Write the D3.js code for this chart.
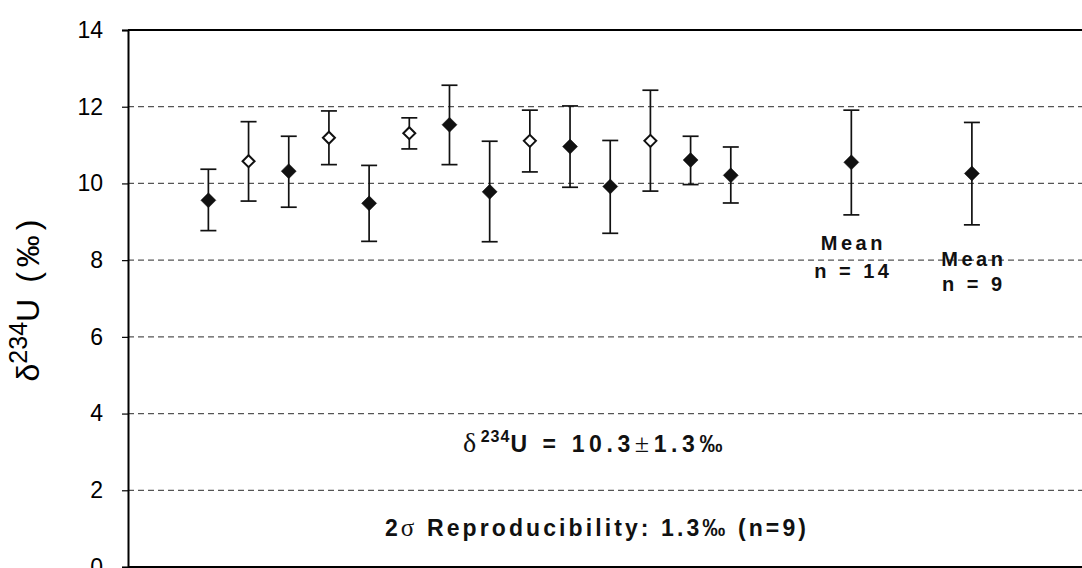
<!DOCTYPE html>
<html>
<head>
<meta charset="utf-8">
<script src="https://cdn.jsdelivr.net/npm/d3@7"></script>
<style>
  html, body { margin: 0; padding: 0; background: #fff; }
  svg { display: block; }
  text { font-family: "Liberation Sans", Arial, sans-serif; }
</style>
</head>
<body>
<svg id="chart" width="1082" height="568"></svg>
<script>
// ---- data ----
const positions = [2, 3, 4, 5, 6, 7, 8, 9, 10, 11, 12, 13, 14, 15, 18, 21];
const values    = [9.56, 10.58, 10.32, 11.19, 9.48, 11.31, 11.53, 9.78, 11.11, 10.96, 9.92, 11.11, 10.61, 10.21, 10.55, 10.26];
const upper     = [10.37, 11.61, 11.23, 11.89, 10.47, 11.71, 12.56, 11.10, 11.91, 12.02, 11.12, 12.43, 11.23, 10.95, 11.91, 11.59];
const lower     = [8.77, 9.54, 9.38, 10.49, 8.49, 10.90, 10.49, 8.48, 10.30, 9.90, 8.70, 9.80, 9.97, 9.49, 9.18, 8.92];
const hollow    = [false, true, false, true, false, true, false, false, true, false, false, true, false, false, false, false];
const yTicks    = [0, 2, 4, 6, 8, 10, 12, 14];
const meanLabels = [
  { pos: 18, lines: ["Mean", "n = 14"], yVal: [8.26, 7.53] },
  { pos: 21, lines: ["Mean", "n = 9"],  yVal: [7.85, 7.20] }
];

// ---- layout ----
const mLeft = 128, mTop = 30, mBottom = 567, mRight = 1082;
const svg = d3.select("#chart");
const x = d3.scaleLinear().domain([0, 23.74]).range([mLeft, mRight]);
const y = d3.scaleLinear().domain([0, 14]).range([mBottom, mTop]);

// gridlines
svg.append("g").selectAll("line").data(yTicks.filter(t => t > 0 && t < 14)).join("line")
  .attr("x1", mLeft).attr("x2", mRight)
  .attr("y1", d => y(d)).attr("y2", d => y(d))
  .attr("stroke", "#555").attr("stroke-width", 1.2)
  .attr("stroke-dasharray", "6,4");

// top border
svg.append("line").attr("x1", mLeft).attr("x2", mRight).attr("y1", y(14)).attr("y2", y(14))
  .attr("stroke", "#000").attr("stroke-width", 2);
// bottom border
svg.append("line").attr("x1", mLeft).attr("x2", mRight).attr("y1", y(0)).attr("y2", y(0))
  .attr("stroke", "#000").attr("stroke-width", 2);

// y axis
const yAxis = d3.axisLeft(y).tickValues(yTicks).tickSize(6).tickPadding(19).tickFormat(d3.format("d"));
const ga = svg.append("g").attr("transform", `translate(${mLeft},0)`).call(yAxis);
ga.select(".domain").attr("stroke", "#000").attr("stroke-width", 2);
ga.selectAll(".tick line").attr("stroke", "#000").attr("stroke-width", 1.2);
ga.selectAll(".tick text").attr("font-size", 23).attr("fill", "#000")
  .attr("font-family", "'Liberation Sans', Arial, sans-serif");

// y axis title
const yt = svg.append("text")
  .attr("transform", `translate(39,298) rotate(-90)`)
  .attr("text-anchor", "middle").attr("font-size", 32).attr("fill", "#000");
yt.append("tspan").text("δ");
yt.append("tspan").attr("font-size", 25).attr("dy", -12).text("234");
yt.append("tspan").attr("dy", 12).text("U");
yt.append("tspan").attr("dx", 16).attr("letter-spacing", 5).text("(‰)");

// error bars
const pts = positions.map((p, i) => ({ p, v: values[i], hi: upper[i], lo: lower[i], open: hollow[i] }));
const eb = svg.append("g");
eb.selectAll(".stem").data(pts).join("line")
  .attr("x1", d => x(d.p)).attr("x2", d => x(d.p))
  .attr("y1", d => y(d.hi)).attr("y2", d => y(d.lo))
  .attr("stroke", "#111").attr("stroke-width", 1.7);
eb.selectAll(".capT").data(pts).join("line")
  .attr("x1", d => x(d.p) - 8).attr("x2", d => x(d.p) + 8)
  .attr("y1", d => y(d.hi)).attr("y2", d => y(d.hi))
  .attr("stroke", "#111").attr("stroke-width", 1.7);
eb.selectAll(".capB").data(pts).join("line")
  .attr("x1", d => x(d.p) - 8).attr("x2", d => x(d.p) + 8)
  .attr("y1", d => y(d.lo)).attr("y2", d => y(d.lo))
  .attr("stroke", "#111").attr("stroke-width", 1.7);

// markers
const diamond = r => `M0,${-r}L${r},0L0,${r}L${-r},0Z`;
svg.append("g").selectAll("path").data(pts).join("path")
  .attr("transform", d => `translate(${x(d.p)},${y(d.v)})`)
  .attr("d", d => d.open ? diamond(6) : diamond(7.5))
  .attr("fill", d => d.open ? "#fff" : "#111")
  .attr("stroke", "#111")
  .attr("stroke-width", d => d.open ? 2 : 0.5);

// mean labels
meanLabels.forEach(m => {
  m.lines.forEach((ln, i) => {
    svg.append("text").attr("x", x(m.pos) + 2).attr("y", y(m.yVal[i]))
      .attr("text-anchor", "middle").attr("font-size", 20).attr("font-weight", "bold")
      .attr("letter-spacing", 3.5).attr("fill", "#111").text(ln);
  });
});

// annotations
const a1 = svg.append("text").attr("x", 595).attr("y", 452)
  .attr("text-anchor", "middle").attr("font-size", 23).attr("font-weight", "bold")
  .attr("letter-spacing", 4.6).attr("fill", "#111");
a1.append("tspan").attr("font-weight", "normal").attr("font-family", "'Liberation Serif', serif").attr("font-size", 28).text("δ");
a1.append("tspan").attr("font-size", 16).attr("dy", -10).attr("letter-spacing", 1).text("234");
a1.append("tspan").attr("dy", 10).text("U  =  10.3");
a1.append("tspan").attr("font-weight", "normal").attr("font-family", "'Liberation Serif', serif").attr("font-size", 26).text("±");
a1.append("tspan").text("1.3‰");

const a2 = svg.append("text").attr("x", 597).attr("y", 536)
  .attr("text-anchor", "middle").attr("font-size", 23).attr("font-weight", "bold")
  .attr("letter-spacing", 3.1).attr("fill", "#111");
a2.append("tspan").text("2");
a2.append("tspan").attr("font-weight", "normal").attr("font-family", "'Liberation Serif', serif").attr("font-size", 25).text("σ");
a2.append("tspan").text(" Reproducibility: 1.3‰ (n=9)");
</script>
</body>
</html>
